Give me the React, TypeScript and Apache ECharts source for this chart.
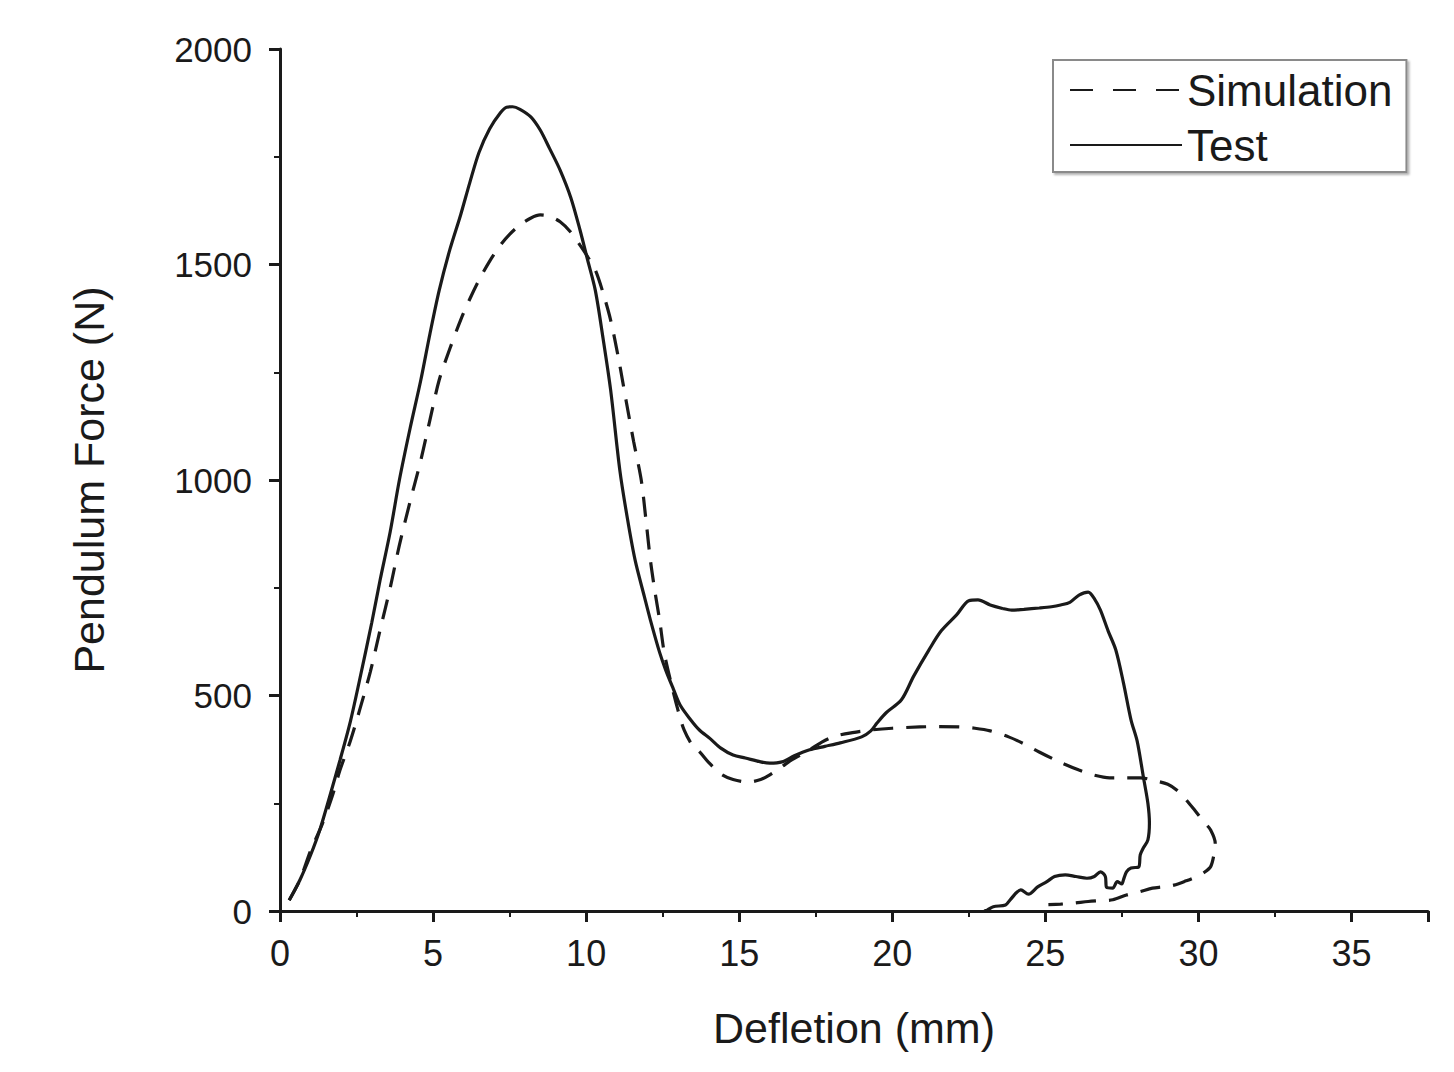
import React, { useEffect, useRef } from "react";
import * as echarts from "echarts";

const xTicks = [0, 5, 10, 15, 20, 25, 30, 35];
const yTicks = [0, 500, 1000, 1500, 2000];

// Test curve (solid): [deflection mm, force N]
const testData: number[][] = [
  [0.3, 25], [0.65, 72], [1.0, 130], [1.3, 188], [1.6, 260], [1.96, 350], [2.3, 440], [2.6, 536],
  [3.0, 670], [3.27, 768], [3.6, 880], [3.9, 1000], [4.25, 1120], [4.6, 1232], [4.9, 1340],
  [5.2, 1440], [5.55, 1535], [5.9, 1615], [6.2, 1690], [6.5, 1760], [6.85, 1815], [7.2, 1852],
  [7.4, 1865], [7.6, 1866], [7.84, 1860], [8.2, 1842], [8.5, 1812], [8.8, 1770], [9.15, 1719],
  [9.5, 1655], [9.8, 1580], [10.05, 1510], [10.3, 1440], [10.55, 1330], [10.8, 1209], [11.1, 1023],
  [11.35, 910], [11.6, 814], [11.9, 730], [12.1, 675], [12.4, 600], [12.6, 559], [12.85, 515],
  [13.07, 478], [13.4, 445], [13.7, 420], [14.05, 400], [14.4, 378], [14.8, 362], [15.2, 355],
  [15.7, 346], [16.0, 343], [16.4, 346], [16.8, 360], [17.3, 374], [17.8, 382], [18.3, 390],
  [19.0, 404], [19.3, 418], [19.5, 436], [19.8, 460], [20.3, 490], [20.7, 545], [21.2, 606],
  [21.6, 650], [22.1, 687], [22.5, 720], [22.8, 722], [23.2, 710], [23.6, 702], [23.9, 698],
  [24.3, 700], [24.8, 703], [25.2, 706], [25.5, 710], [25.8, 716], [26.1, 733], [26.4, 740],
  [26.6, 725], [26.8, 698], [27.05, 650], [27.3, 606], [27.55, 530], [27.8, 443], [28.0, 394],
  [28.2, 312], [28.35, 250], [28.4, 204], [28.35, 165], [28.2, 146], [28.1, 130], [28.05, 102],
  [27.8, 100], [27.65, 91], [27.55, 72], [27.5, 63], [27.35, 68], [27.2, 53], [27.0, 55],
  [26.96, 80], [26.8, 91], [26.6, 80], [26.36, 76], [26.0, 80], [25.65, 84], [25.3, 80],
  [25.05, 68], [24.75, 56], [24.45, 39], [24.2, 49], [23.85, 26], [23.7, 14], [23.3, 10],
  [23.1, 2], [23.0, 0],
];

// Simulation curve (dashed): [deflection mm, force N]
const simulationData: number[][] = [
  [0.3, 25], [0.65, 72], [1.0, 140], [1.37, 200], [1.7, 265], [1.96, 327], [2.3, 395], [2.6, 466],
  [2.95, 555], [3.27, 652], [3.6, 750], [3.9, 849], [4.25, 950], [4.6, 1046], [4.9, 1140],
  [5.2, 1232], [5.55, 1305], [5.9, 1371], [6.2, 1420], [6.5, 1464], [6.85, 1508], [7.2, 1545],
  [7.5, 1570], [7.84, 1592], [8.2, 1608], [8.5, 1615], [8.8, 1612], [9.15, 1599], [9.5, 1575],
  [9.8, 1545], [10.05, 1518], [10.3, 1487], [10.55, 1435], [10.8, 1371], [11.05, 1285],
  [11.3, 1186], [11.55, 1090], [11.8, 1000], [11.95, 910], [12.1, 814], [12.25, 740], [12.4, 675],
  [12.55, 600], [12.75, 536], [13.0, 466], [13.2, 420], [13.5, 381], [13.7, 370], [14.0, 345],
  [14.4, 318], [14.8, 305], [15.3, 299], [15.7, 305], [16.0, 316], [16.4, 335], [16.7, 350],
  [17.3, 374], [17.7, 392], [18.1, 405], [18.7, 414], [19.3, 420], [20.0, 424], [20.9, 427],
  [21.5, 428], [22.2, 427], [22.7, 424], [23.2, 418], [23.8, 404], [24.3, 388], [24.8, 369],
  [25.4, 348], [26.1, 327], [26.6, 315], [27.1, 309], [27.6, 309], [28.1, 309], [28.6, 302],
  [29.0, 294], [29.3, 280], [29.6, 258], [29.9, 232], [30.2, 205], [30.4, 188], [30.55, 157],
  [30.5, 128], [30.4, 103], [30.2, 90], [29.95, 80], [29.6, 70], [29.2, 60], [28.85, 56],
  [28.5, 53], [28.1, 45], [27.65, 37], [27.2, 26], [26.8, 24], [26.4, 22], [25.9, 18],
  [25.5, 16], [25.1, 15],
];

const FONT = "'Liberation Sans', Arial, sans-serif";
const INK = "#1a1a1a";

export default function App() {
  const ref = useRef<HTMLDivElement>(null);
  useEffect(() => {
    if (!ref.current) return;
    const chart = echarts.init(ref.current, null, { renderer: "svg" });
    chart.setOption({
      animation: false,
      backgroundColor: "#fff",
      textStyle: { fontFamily: FONT, color: INK },
      grid: { left: 280, top: 49, right: 26, bottom: 161, containLabel: false },
      legend: {
        left: 1053,
        top: 60,
        orient: "vertical",
        itemWidth: 112,
        itemHeight: 3,
        itemGap: 9,
        padding: [7, 14, 4, 16],
        backgroundColor: "#fff",
        borderColor: "#8a8a8a",
        borderWidth: 2,
        shadowColor: "rgba(0,0,0,0.3)",
        shadowBlur: 2,
        shadowOffsetX: 2,
        shadowOffsetY: 2,
        itemStyle: { opacity: 0 },
        textStyle: { fontSize: 44, lineHeight: 46, color: INK, fontFamily: FONT },
        data: [
          { name: "Simulation", lineStyle: { type: [23, 20] } },
          { name: "Test" },
        ],
      },
      xAxis: {
        type: "value",
        min: 0,
        max: 37.5,
        interval: 5,
        name: "Defletion (mm)",
        nameLocation: "middle",
        nameGap: 95,
        nameTextStyle: { fontSize: 43, color: INK, fontFamily: FONT },
        axisLine: { show: true, lineStyle: { color: INK, width: 3 } },
        axisTick: { show: true, inside: false, length: 11, lineStyle: { color: INK, width: 3 } },
        minorTick: { show: true, splitNumber: 2, length: 6, lineStyle: { color: INK, width: 2 } },
        splitLine: { show: false },
        axisLabel: {
          fontSize: 36,
          color: INK,
          margin: 24,
          fontFamily: FONT,
          showMaxLabel: false,
          formatter: (v: number) => (xTicks.includes(v) ? String(v) : ""),
        },
      },
      yAxis: {
        type: "value",
        min: 0,
        max: 2000,
        interval: 500,
        name: "Pendulum Force (N)",
        nameLocation: "middle",
        nameGap: 170,
        nameTextStyle: { fontSize: 43, color: INK, fontFamily: FONT },
        axisLine: { show: true, lineStyle: { color: INK, width: 3 } },
        axisTick: { show: true, inside: false, length: 11, lineStyle: { color: INK, width: 3 } },
        minorTick: { show: true, splitNumber: 2, length: 6, lineStyle: { color: INK, width: 2 } },
        splitLine: { show: false },
        axisLabel: {
          fontSize: 35,
          color: INK,
          margin: 28,
          fontFamily: FONT,
          formatter: (v: number) => (yTicks.includes(v) ? String(v) : ""),
        },
      },
      series: [
        {
          name: "Simulation",
          type: "line",
          data: simulationData,
          showSymbol: false,
          symbol: "none",
          smooth: 0.3,
          lineStyle: { color: INK, width: 3.2, type: [20, 13] },
          itemStyle: { color: INK },
        },
        {
          name: "Test",
          type: "line",
          data: testData,
          showSymbol: false,
          symbol: "none",
          smooth: 0.3,
          lineStyle: { color: INK, width: 3.2, type: "solid" },
          itemStyle: { color: INK },
        },
      ],
    });
    return () => chart.dispose();
  }, []);
  return (
    <div
      ref={ref}
      style={{ position: "fixed", left: 0, top: 0, width: 1454, height: 1072 }}
    />
  );
}
